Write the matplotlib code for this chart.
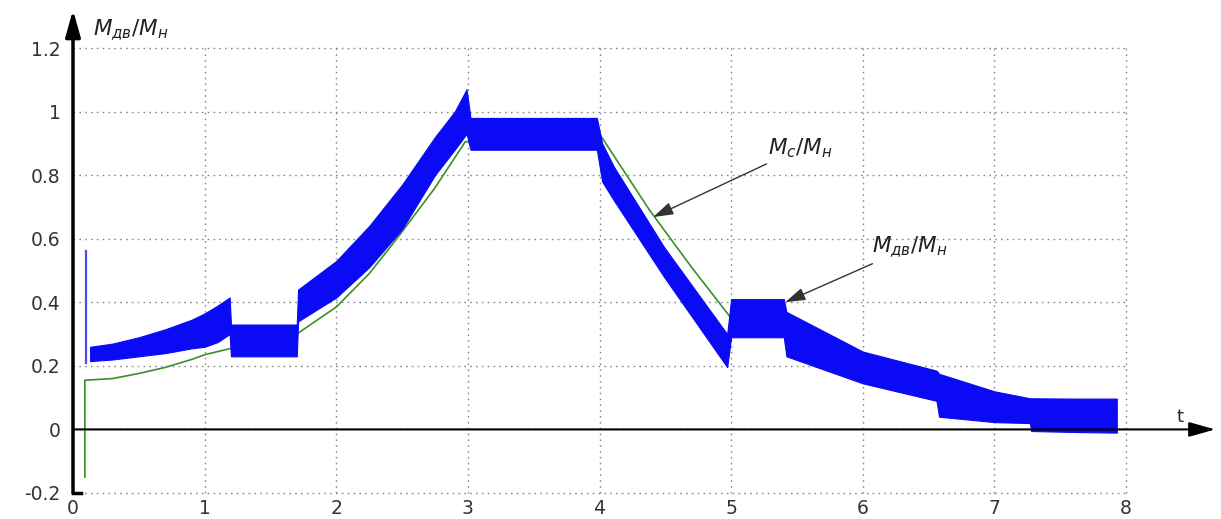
import matplotlib
matplotlib.use("Agg")
import matplotlib.pyplot as plt
import numpy as np

plt.rcParams['font.family'] = ['DejaVu Sans']
plt.rcParams['mathtext.fontset'] = 'dejavusans'

# ---- data ----
# envelope of the noisy motor torque band M_дв/M_н
band_t = [0.13, 0.30, 0.50, 0.70, 0.90, 1.00, 1.10, 1.19,
          1.20, 1.45, 1.70,
          1.71, 2.00, 2.25, 2.50, 2.75, 2.90, 2.99,
          3.02, 3.50, 3.98,
          4.02, 4.11, 4.49, 4.97,
          5.00, 5.20, 5.40,
          5.42, 6.00, 6.56,
          6.58, 7.00, 7.27,
          7.28, 7.60, 7.93]
band_upper = [0.26, 0.27, 0.29, 0.315, 0.345, 0.365, 0.39, 0.415,
              0.33, 0.33, 0.33,
              0.44, 0.53, 0.64, 0.77, 0.92, 1.00, 1.07,
              0.98, 0.98, 0.98,
              0.90, 0.826, 0.574, 0.30,
              0.41, 0.41, 0.41,
              0.37, 0.245, 0.185,
              0.175, 0.12, 0.098,
              0.098, 0.097, 0.097]
band_lower = [0.215, 0.22, 0.23, 0.24, 0.255, 0.26, 0.275, 0.30,
              0.23, 0.23, 0.23,
              0.34, 0.415, 0.51, 0.63, 0.80, 0.88, 0.93,
              0.88, 0.88, 0.88,
              0.78, 0.72, 0.48, 0.196,
              0.29, 0.29, 0.29,
              0.23, 0.145, 0.09,
              0.04, 0.023, 0.02,
              -0.005, -0.008, -0.01]
# start-up spike of motor torque
spike_t = [0.10, 0.10]
spike_v = [0.21, 0.56]

# load torque M_c/M_н
load_t = [0.09, 0.09, 0.10, 0.30, 0.50, 0.70, 0.90, 1.00, 1.20, 1.45, 1.70,
          2.00, 2.25, 2.46, 2.75, 2.98, 3.50, 4.00, 4.38, 4.70, 5.00,
          5.50, 6.00, 6.50, 7.00, 7.50, 7.93]
load_v = [-0.15, 0.155, 0.155, 0.16, 0.176, 0.195, 0.22, 0.235, 0.255, 0.275, 0.30,
          0.385, 0.49, 0.60, 0.76, 0.905, 0.92, 0.93, 0.69, 0.51, 0.35,
          0.30, 0.22, 0.165, 0.115, 0.075, 0.055]

x_ticks = [0, 1, 2, 3, 4, 5, 6, 7, 8]
y_ticks = [-0.2, 0, 0.2, 0.4, 0.6, 0.8, 1.0, 1.2]
y_tick_labels = ['-0.2', '0', '0.2', '0.4', '0.6', '0.8', '1', '1.2']

# ---- figure ----
W, H = 1221, 519
fig = plt.figure(figsize=(W / 100, H / 100), dpi=100)
x0, x8 = 73, 1126
y_m02, y_12 = 493, 48
ax = fig.add_axes([x0 / W, (H - y_m02) / H, (x8 - x0) / W, (y_m02 - y_12) / H])
ax.set_xlim(0, 8)
ax.set_ylim(-0.2, 1.2)

ax.grid(True, ls=(0, (1.2, 3.0)), color='#8a8a8a', lw=1.0)
ax.set_xticks(x_ticks)
ax.set_yticks(y_ticks)
ax.set_yticklabels(y_tick_labels)
ax.tick_params(length=0, labelsize=13.5, colors='#333333')
ax.tick_params(axis='y', pad=9)
ax.tick_params(axis='x', pad=4)
for s in ['top', 'right', 'bottom', 'left']:
    ax.spines[s].set_visible(False)
for gl in ax.get_xgridlines() + ax.get_ygridlines():
    gl.set_clip_on(False)

# curves
ax.plot(load_t, load_v, color='#3a8f2a', lw=1.2, zorder=3)
ax.fill_between(band_t, band_lower, band_upper, color='#0a0af5', lw=0.8,
                edgecolor='#0a0af5', zorder=4)
ax.plot(spike_t, spike_v, color='#4a4af0', lw=1.6, zorder=4)

# axes with arrows
xmax_arrow = (1215 - x0) / 131.6
ymax_arrow = (429 - 10) / 317.5
ax.annotate('', xy=(xmax_arrow, 0), xytext=(0, 0),
            arrowprops=dict(arrowstyle='-|>,head_length=1.6,head_width=0.45',
                            color='black', lw=1.5, shrinkA=0, shrinkB=0),
            annotation_clip=False, zorder=5)
ax.annotate('', xy=(0, ymax_arrow), xytext=(0, -0.2),
            arrowprops=dict(arrowstyle='-|>,head_length=1.6,head_width=0.45',
                            color='black', lw=2.5, shrinkA=0, shrinkB=0),
            annotation_clip=False, zorder=5)
ax.plot([0, 0.06], [-0.2, -0.2], color='black', lw=2.5, clip_on=False, zorder=5)

# labels
ax.text(0.15, 1.255, r'$M_{\mathit{дв}}/M_{\mathit{н}}$', fontsize=15.5,
        ha='left', va='center', color='#222222')
ax.text(8.41, 0.04, 't', fontsize=13, ha='center', va='center', color='#222222')

ax.annotate(r'$M_{c}/M_{\mathit{н}}$', xy=(4.407, 0.668), xytext=(5.28, 0.885),
            fontsize=15.5, color='#222222', ha='left', va='center',
            arrowprops=dict(arrowstyle='-|>,head_length=0.8,head_width=0.25',
                            color='#333333', lw=1.0, shrinkA=2, shrinkB=0))
ax.annotate(r'$M_{\mathit{дв}}/M_{\mathit{н}}$', xy=(5.41, 0.40), xytext=(6.07, 0.573),
            fontsize=15.5, color='#222222', ha='left', va='center',
            arrowprops=dict(arrowstyle='-|>,head_length=0.8,head_width=0.25',
                            color='#333333', lw=1.0, shrinkA=2, shrinkB=0))

fig.savefig('out.png', dpi=100)
